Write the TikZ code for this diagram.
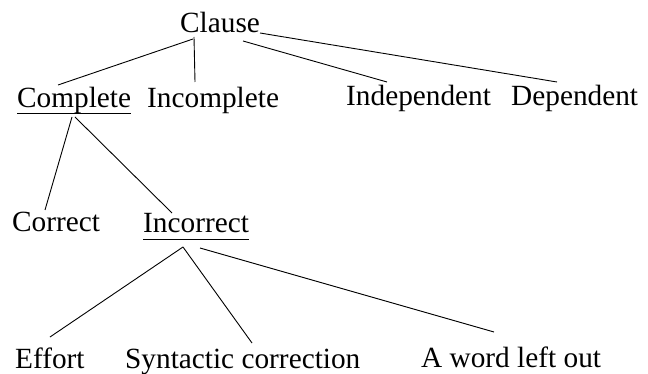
\documentclass[tikz,border=0pt]{standalone}
\usepackage{fontspec}
\setmainfont{Liberation Serif}
\begin{document}
\begin{tikzpicture}[x=1pt,y=-1pt,
  lbl/.style={anchor=base west,inner sep=0pt,font=\fontsize{29.3}{35}\selectfont},
  edge/.style={line width=0.9pt}]
\useasboundingbox (0,0) rectangle (648,374);
\node[lbl] (clause) at (180,33) {Clause};
\node[lbl] (complete) at (17,108) {Complete};
\node[lbl] (incomplete) at (147,108) {Incomplete};
\node[lbl] (independent) at (346,106) {Independent};
\node[lbl] (dependent) at (511,106) {Dependent};
\node[lbl] (correct) at (12,232) {Correct};
\node[lbl] (incorrect) at (143,233) {Incorrect};
\node[lbl] (effort) at (15,368) {Effort};
\node[lbl] (syntactic) at (125,368) {Syntactic correction};
\node[lbl] (word) at (421,367) {A word left out};
% underlines
\draw[edge] ([yshift=-5pt]complete.base west) -- ([yshift=-5pt]complete.base east);
\draw[edge] ([yshift=-6pt]incorrect.base west) -- ([yshift=-6pt]incorrect.base east);
% connectors
\draw[edge] ([shift={(13,6)}]clause.base west) -- ([shift={(41,-23)}]complete.base west);
\draw[edge] ([shift={(14,4)}]clause.base west) -- ([shift={(48,-26)}]incomplete.base west);
\draw[edge] ([shift={(63,8)}]clause.base west) -- ([shift={(41,-24)}]independent.base west);
\draw[edge] ([shift={(80,0)}]clause.base west) -- ([shift={(46,-24)}]dependent.base west);
\draw[edge] ([shift={(55,9)}]complete.base west) -- ([shift={(33,-22)}]correct.base west);
\draw[edge] ([shift={(58,9)}]complete.base west) -- ([shift={(29,-20)}]incorrect.base west);
\draw[edge] ([shift={(40,14)}]incorrect.base west) -- ([shift={(35,-31)}]effort.base west);
\draw[edge] ([shift={(40,14)}]incorrect.base west) -- ([shift={(127,-25)}]syntactic.base west);
\draw[edge] ([shift={(57,15)}]incorrect.base west) -- ([shift={(73,-35)}]word.base west);
\end{tikzpicture}
\end{document}
